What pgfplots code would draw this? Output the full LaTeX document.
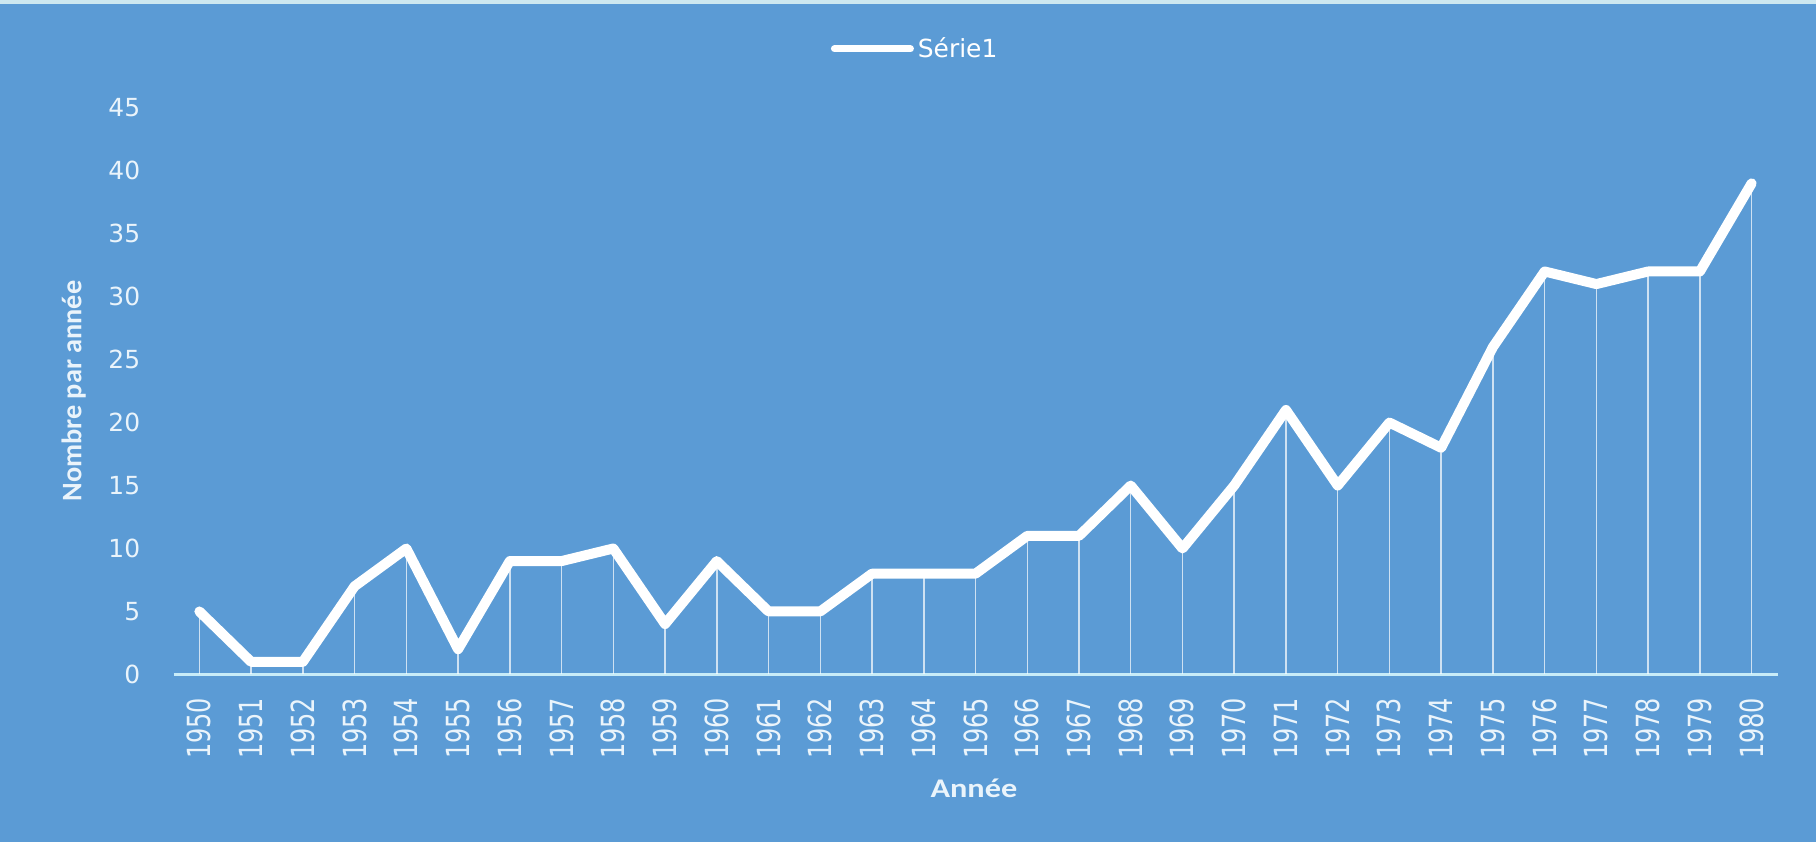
\documentclass[border=0pt]{standalone}
\usepackage{pgfplots}
\pgfplotsset{compat=1.18}
\usepackage{fontspec}
\setmainfont{Carlito}
\newfontfamily\widefont[FakeStretch=1.2]{Carlito}
\newfontfamily\ytickfont{DejaVu Sans}
\newfontfamily\xtickfont[FakeStretch=0.75]{DejaVu Sans}
\definecolor{bg}{HTML}{5B9BD5}
\definecolor{axisln}{HTML}{C8ECF8}
\definecolor{lbl}{HTML}{EAF4FB}
\definecolor{topstrip}{HTML}{CDE8F0}

\pgfplotstableread{
annee nombre
1950 5
1951 1
1952 1
1953 7
1954 10
1955 2
1956 9
1957 9
1958 10
1959 4
1960 9
1961 5
1962 5
1963 8
1964 8
1965 8
1966 11
1967 11
1968 15
1969 10
1970 15
1971 21
1972 15
1973 20
1974 18
1975 26
1976 32
1977 31
1978 32
1979 32
1980 39
}\serie

\begin{document}
\begin{tikzpicture}
\fill[bg] (0,0) rectangle (908bp,421bp);
\fill[topstrip] (0,419bp) rectangle (908bp,421bp);
\begin{axis}[
    at={(86.75bp,83.8bp)}, anchor=south west,
    width=802bp, height=283.3bp, scale only axis,
    xmin=1949.5, xmax=1980.5,
    ymin=0, ymax=45,
    xtick={1950,...,1980},
    ytick={0,5,...,45},
    /pgf/number format/1000 sep={},
    /pgf/number format/assume math mode=true,
    major tick length=0pt,
    axis x line*=bottom, axis y line*=left,
    x axis line style={draw=axisln, line width=1.1bp, -},
    y axis line style={draw=none},
    xticklabel shift=11.5bp,
    yticklabel shift=16.5bp,
    x tick label style={rotate=90, anchor=east, inner sep=0pt, text=lbl,
        font=\xtickfont\fontsize{16}{18}\selectfont},
    y tick label style={inner sep=0pt, text=lbl,
        font=\ytickfont\fontsize{12.5}{14}\selectfont},
    xlabel={Année},
    ylabel={Nombre par année},
    xlabel style={at={(axis description cs:0.499,-0.2005)}, anchor=center,
        text=lbl, font=\widefont\bfseries\fontsize{13.5}{15}\selectfont},
    ylabel style={at={(axis description cs:-0.0623,0.5)}, anchor=center,
        text=lbl, font=\bfseries\fontsize{14.2}{16}\selectfont},
    legend style={at={(axis description cs:0.463,1.104)}, anchor=center,
        draw=none, fill=none, text=white,
        font=\ytickfont\fontsize{12.5}{14}\selectfont},
    legend image code/.code={
        \draw[white, line width=3.5bp, line cap=round] (0bp,0bp) -- (38bp,0bp);},
    clip=false,
]
\addplot[ycomb, white, line width=0.75bp, opacity=0.7, forget plot]
    table[x=annee, y=nombre] {\serie};
\addplot[white, line width=5bp, line join=round, line cap=round, mark=none]
    table[x=annee, y=nombre] {\serie};
\addlegendentry{Série1}
\end{axis}
\end{tikzpicture}
\end{document}
